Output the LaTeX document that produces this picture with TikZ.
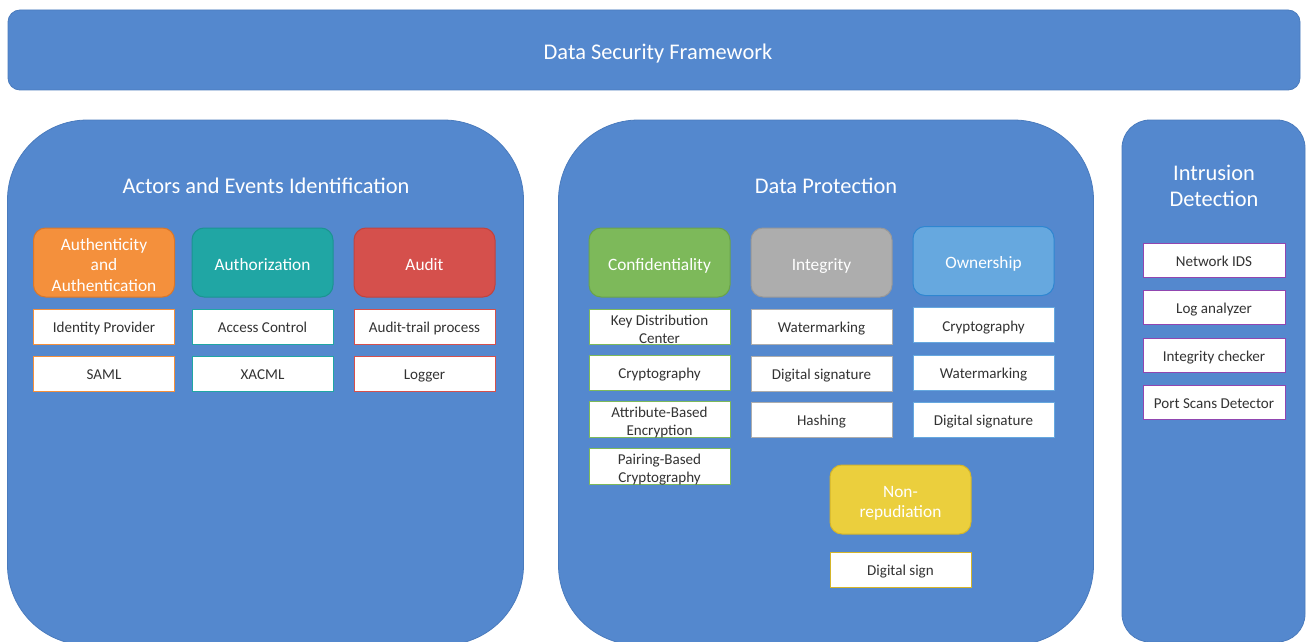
\documentclass[tikz,border=0pt]{standalone}
\usepackage{fontspec}
\setmainfont{Carlito}
\definecolor{bluefill}{HTML}{5488CE}
\definecolor{blueedge}{HTML}{4A7BBD}
\definecolor{orangef}{HTML}{F4903C}
\definecolor{orangee}{HTML}{D9772A}
\definecolor{tealf}{HTML}{20A6A4}
\definecolor{teale}{HTML}{1B9492}
\definecolor{redf}{HTML}{D5504C}
\definecolor{rede}{HTML}{C0433F}
\definecolor{greenf}{HTML}{7DB95A}
\definecolor{greene}{HTML}{6AA34A}
\definecolor{grayf}{HTML}{ADADAD}
\definecolor{graye}{HTML}{989898}
\definecolor{lbluef}{HTML}{66A8DF}
\definecolor{lbluee}{HTML}{2F86D0}
\definecolor{yellowf}{HTML}{EBCF3D}
\definecolor{yellowe}{HTML}{D4B52A}
\definecolor{purplee}{HTML}{9146B0}
\definecolor{txt}{HTML}{333333}
\tikzset{
  bigbox/.style={draw=blueedge, fill=bluefill, inner sep=0pt, line width=0.6pt},
  hdr/.style={rounded corners=9pt, minimum width=105.75pt, minimum height=51.75pt, inner sep=0pt,
    text=white, font=\fontsize{13}{15.3}\selectfont, align=center, line width=0.75pt},
  hdrone/.style={hdr, text height=13pt, text depth=1.5pt},
  sub/.style={fill=white, minimum width=105.75pt, minimum height=26.25pt, inner sep=0pt,
    text=txt, font=\fontsize{11.3}{13.5}\selectfont, align=center, line width=0.75pt},
  subone/.style={sub, text height=10.8pt, text depth=1.5pt},
  rsub/.style={subone, draw=purplee, minimum width=106.5pt, minimum height=25.5pt},
  ttl/.style={text=white, font=\fontsize{16.8}{19.5}\selectfont, align=center, inner sep=0pt}
}
\begin{document}
\begin{tikzpicture}[x=0.75pt,y=-0.75pt]
\clip (0,0) rectangle (1306,642);
\fill[white] (0,0) rectangle (1306,642);
% top banner
\node[bigbox, rounded corners=9pt, minimum width=969pt, minimum height=60pt] (banner) at (654,50) {};
\node[ttl] (bannert) at (658,54) {Data Security Framework};
% big boxes
\node[bigbox, rounded corners=60pt, minimum width=387pt, minimum height=393.75pt] (left) at (265.5,382.5) {};
\node[bigbox, rounded corners=60pt, minimum width=401.25pt, minimum height=393.75pt] (mid) at (826,382.5) {};
\node[bigbox, rounded corners=21pt, minimum width=137.25pt, minimum height=391.5pt] (right) at (1213.5,381) {};
\node[ttl] (leftt) at (266,186) {Actors and Events Identification};
\node[ttl] (midt) at (826,186) {Data Protection};
\node[ttl] (rightt) at (1214,186) {Intrusion\\Detection};
% left column
\node[hdr, fill=orangef, draw=orangee] (auth) at (104,262.5) {\rule{0pt}{12.3pt}Authenticity\\and\\Authentication};
\node[hdrone, fill=tealf, draw=teale] (authz) at (262.5,262.5) {Authorization};
\node[hdrone, fill=redf, draw=rede] (audit) at (424.5,262.5) {Audit};
\node[subone, draw=orangef] (idp) at (104,326.5) {Identity Provider};
\node[subone, draw=orangef] (saml) at (104,373.5) {SAML};
\node[subone, draw=tealf] (ac) at (262.5,326.5) {Access Control};
\node[subone, draw=tealf] (xacml) at (262.5,373.5) {XACML};
\node[subone, draw=redf] (atp) at (424.5,326.5) {Audit-trail process};
\node[subone, draw=redf] (logger) at (424.5,373.5) {Logger};
% middle column
\node[hdrone, fill=greenf, draw=greene] (conf) at (659.5,262.5) {Confidentiality};
\node[hdrone, fill=grayf, draw=graye] (integ) at (821.5,262.5) {Integrity};
\node[hdrone, fill=lbluef, draw=lbluee] (own) at (983.5,261) {Ownership};
\node[sub, draw=greenf] (kdc) at (659.5,326.5) {\rule{0pt}{11.5pt}Key Distribution\\Center};
\node[subone, draw=greenf] (crypto1) at (659.5,372.5) {Cryptography};
\node[sub, draw=greenf] (abe) at (659.5,419.5) {\rule{0pt}{12.3pt}Attribute-Based\\Encryption};
\node[sub, draw=greenf] (pbc) at (659.5,466.5) {\rule{0pt}{12.3pt}Pairing-Based\\Cryptography};
\node[subone, draw=grayf] (wm1) at (821.5,326.5) {Watermarking};
\node[subone, draw=grayf] (ds1) at (821.5,373.5) {Digital signature};
\node[subone, draw=grayf] (hash) at (821.5,419.5) {Hashing};
\node[subone, draw=lbluef] (crypto2) at (983.5,325) {Cryptography};
\node[subone, draw=lbluef] (wm2) at (983.5,372.5) {Watermarking};
\node[subone, draw=lbluef] (ds2) at (983.5,419.5) {Digital signature};
\node[hdr, fill=yellowf, draw=yellowe] (nonrep) at (900.5,499.5) {\rule{0pt}{14.5pt}Non-\\repudiation};
\node[subone, draw=yellowe] (dsign) at (900.5,569.5) {Digital sign};
% right column
\node[rsub] (nids) at (1214,260) {Network IDS};
\node[rsub] (loga) at (1214,307.5) {Log analyzer};
\node[rsub] (intc) at (1214,355) {Integrity checker};
\node[rsub] (psd) at (1214,402.5) {Port Scans Detector};
\end{tikzpicture}
\end{document}
